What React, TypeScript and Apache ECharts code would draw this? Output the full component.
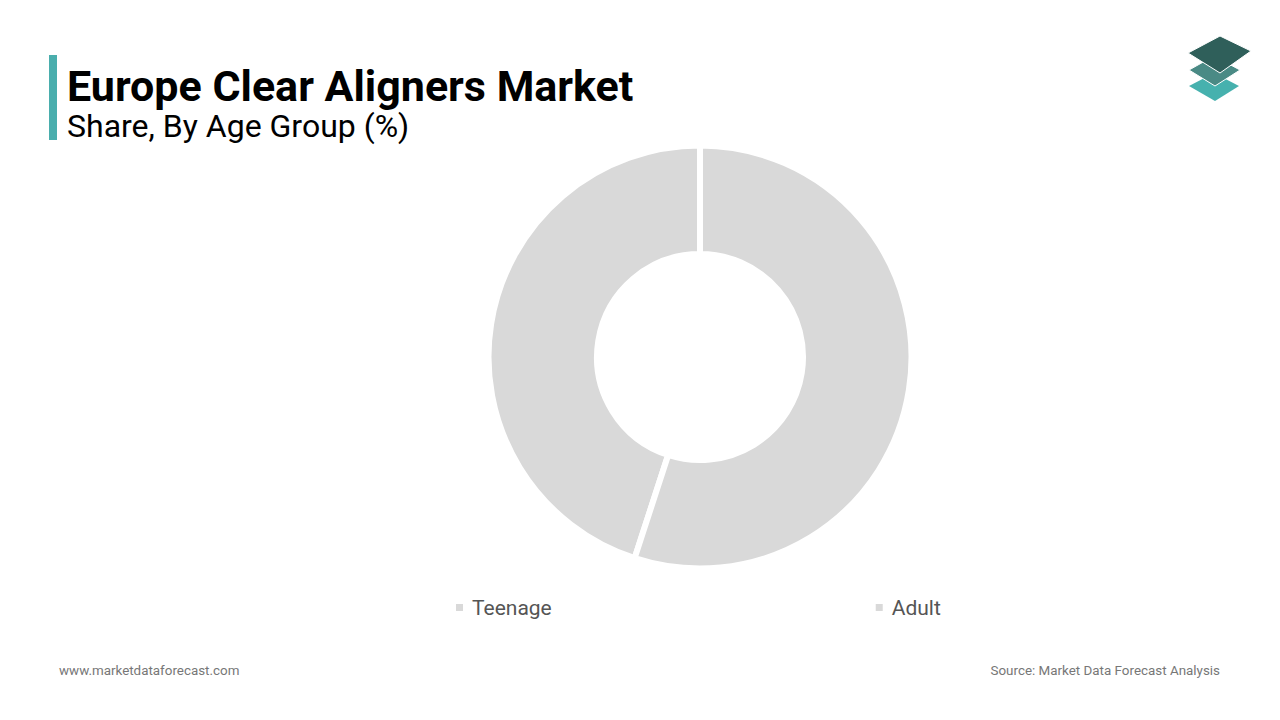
import React, { useEffect, useRef } from "react";
import * as echarts from "echarts";

const categories = ["Teenage", "Adult"];
const shares = [45, 55];
const sliceColor = "#d9d9d9";

export default function App() {
  const ref = useRef<HTMLDivElement>(null);
  useEffect(() => {
    document.body.style.margin = "0";
    const chart = echarts.init(ref.current!, null, { renderer: "svg" });
    chart.setOption({
      animation: false,
      backgroundColor: "#ffffff",
      legend: {
        data: categories,
        left: 454,
        top: 597,
        padding: 0,
        itemWidth: 9,
        itemHeight: 9,
        itemGap: 322,
        icon: "rect",
        textStyle: { fontFamily: "Roboto", fontSize: 21, color: "#555555", padding: [0, 0, 0, 3] },
      },
      graphic: [
        { type: "rect", shape: { x: 49, y: 55, width: 8, height: 85 }, style: { fill: "#4aaead" } },
        {
          type: "text",
          x: 67,
          y: 64,
          style: {
            text: "Europe Clear Aligners Market",
            fontFamily: "Roboto",
            fontWeight: "bold",
            fontSize: 43,
            fill: "#000000",
            verticalAlign: "top",
          },
        },
        {
          type: "text",
          x: 67,
          y: 110,
          style: {
            text: "Share, By Age Group (%)",
            fontFamily: "Roboto",
            fontSize: 32,
            fill: "#000000",
            verticalAlign: "top",
          },
        },
        {
          type: "text",
          x: 59,
          y: 664,
          style: { text: "www.marketdataforecast.com", fontFamily: "Roboto", fontSize: 13.4, fill: "#777777", verticalAlign: "top" },
        },
        {
          type: "text",
          x: 1220,
          y: 664,
          style: {
            text: "Source: Market Data Forecast Analysis",
            fontFamily: "Roboto",
            fontSize: 13.4,
            fill: "#777777",
            align: "right",
            verticalAlign: "top",
          },
        },
        // logo
        { type: "polygon", shape: { points: [[1189, 86], [1214, 73], [1239, 86], [1215, 101]] }, style: { fill: "#46b1ae" } },
        { type: "polygon", shape: { points: [[1189, 70], [1214, 56], [1240, 70], [1215, 86]] }, style: { fill: "#4a8a85", stroke: "#ffffff", lineWidth: 1 } },
        { type: "polygon", shape: { points: [[1188, 53], [1220, 36], [1251, 51], [1220, 73]] }, style: { fill: "#2f5f5a", stroke: "#ffffff", lineWidth: 1 } },
      ],
      series: [
        {
          type: "pie",
          center: [700, 357],
          radius: [103, 211.5],
          clockwise: false,
          startAngle: 90,
          label: { show: false },
          labelLine: { show: false },
          itemStyle: { color: sliceColor, borderColor: "#ffffff", borderWidth: 6 },
          emphasis: { disabled: true },
          data: categories.map((c, i) => ({ name: c, value: shares[i] })),
        },
      ],
    });
    return () => chart.dispose();
  }, []);
  return <div ref={ref} style={{ position: "absolute", left: 0, top: 0, width: 1280, height: 720 }} />;
}
